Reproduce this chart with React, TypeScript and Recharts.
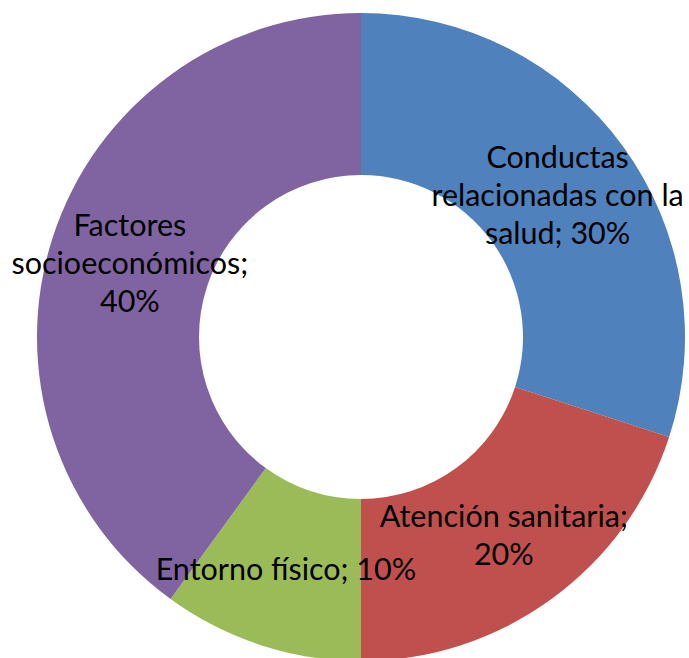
import React from 'react';
import { PieChart, Pie, Cell } from 'recharts';

const categories = [
  'Conductas relacionadas con la salud',
  'Atención sanitaria',
  'Entorno físico',
  'Factores socioeconómicos',
];
const values = [30, 20, 10, 40];
const labelLines = [
  ['Conductas', 'relacionadas con la', 'salud; 30%'],
  ['Atención sanitaria;', '20%'],
  ['Entorno físico; 10%'],
  ['Factores', 'socioeconómicos;', '40%'],
];
const colors = ['#4F81BD', '#C0504D', '#9BBB59', '#8064A2'];

const data = categories.map((name, i) => ({ name, value: values[i], lines: labelLines[i] }));

const RAD = Math.PI / 180;
const FONT_SIZE = 30.5;
const LINE_H = 38;

const renderLabel = (props: any) => {
  const { cx, cy, midAngle, innerRadius, outerRadius, index } = props;
  const r = (innerRadius + outerRadius) / 2;
  const x = cx + r * Math.cos(-midAngle * RAD);
  const y = cy + r * Math.sin(-midAngle * RAD);
  const lines: string[] = data[index].lines;
  const startY = y - ((lines.length - 1) * LINE_H) / 2;
  return (
    <text
      x={x}
      y={startY}
      textAnchor="middle"
      dominantBaseline="central"
      fill="#000"
      fontFamily="Lato, 'Open Sans', sans-serif"
      fontSize={FONT_SIZE}
    >
      {lines.map((ln, i) => (
        <tspan key={i} x={x} y={startY + i * LINE_H} dominantBaseline="central">
          {ln}
        </tspan>
      ))}
    </text>
  );
};

export default function App() {
  return (
    <div style={{ position: 'absolute', left: 0, top: 0, width: 689, height: 658, background: '#fff' }}>
      <PieChart width={689} height={658} margin={{ top: 0, right: 0, bottom: 0, left: 0 }}>
        <Pie
          data={data}
          dataKey="value"
          nameKey="name"
          cx={361}
          cy={337}
          innerRadius={162}
          outerRadius={324}
          startAngle={90}
          endAngle={-270}
          stroke="none"
          label={renderLabel}
          labelLine={false}
          isAnimationActive={false}
        >
          {data.map((d, i) => (
            <Cell key={d.name} fill={colors[i]} stroke="none" />
          ))}
        </Pie>
      </PieChart>
    </div>
  );
}
